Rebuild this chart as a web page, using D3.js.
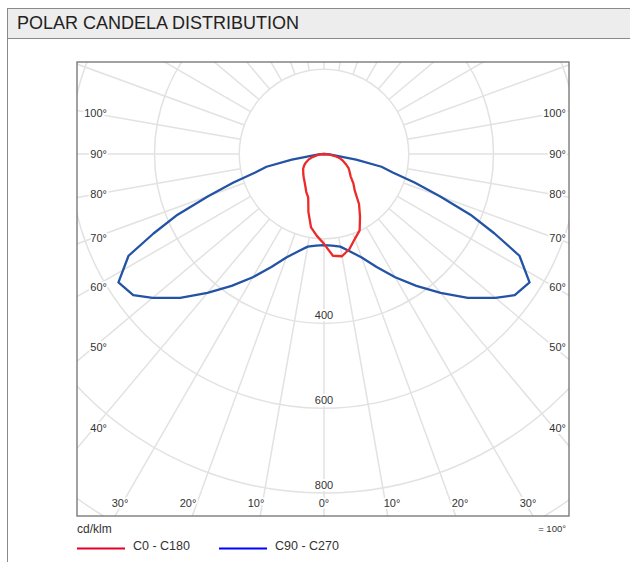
<!DOCTYPE html>
<html><head><meta charset="utf-8">
<script src="https://cdn.jsdelivr.net/npm/d3@7"></script>
<style>
html,body{margin:0;padding:0;background:#fff;}
svg{display:block;font-family:"Liberation Sans",Arial,Helvetica,sans-serif;}
</style></head>
<body>
<svg id="chart" width="630" height="562"></svg>
<script>
// ---- data (cd/klm) ----
const title = "POLAR CANDELA DISTRIBUTION";
const gammaBlue = [0,5,10,15,20,25,30,35,40,45,50,53.5,58,62.5,65,67.5,70,72.5,75,77.5,80,85,90];
const c90  = [215,217,222,238,260,294,336,380,428,480,528,560,572,520,444,374,291,224,168,139,77,13,0];
const c270 = [215,217,222,238,260,294,336,380,428,480,528,560,572,520,444,374,291,224,168,139,77,13,0];
const gammaRed = [0,5,10,15,20,25,30,35,40,45,50,55,60,65,70,75,80,85,90];
const c0   = [212,241,245,232,213,199,170,144,113,98,82,74,67,57,48,39,24,12,0];
const c180 = [212,194,176,142,109,99,88,80,74,69,64,60,54,47,39,28,16,9,0];
const ringValues = [200,400,600,800,1000,1200];
const ringLabels = ["400","600","800"];
const sideAngles = [100,90,80,70,60,50,40];
const bottomAngles = [30,20,10,0,10,20,30];
const bottomSides  = [-1,-1,-1,0,1,1,1];
const legendItems = [{name:"C0 - C180", color:"#e4002b"},{name:"C90 - C270", color:"#0000ff"}];
const unitLabel = "cd/klm";
const scaleLabel = "= 100°";

// ---- layout ----
const svg = d3.select("#chart");
const frame = {x0:77, y0:62, x1:569, y1:516};
const cx = 324, cy = 154;
const r = d3.scaleLinear().domain([0,200]).range([0,84.75]);
const rad = d => d*Math.PI/180;
const gridColor = "#e2e2e2";
const textColor = "#333";

// header
svg.append("rect").attr("x",7.5).attr("y",8.5).attr("width",640).attr("height",30)
  .attr("fill","#ededed").attr("stroke","#8a8a8a").attr("stroke-width",1);
svg.append("line").attr("x1",7.5).attr("x2",7.5).attr("y1",38).attr("y2",562)
  .attr("stroke","#8a8a8a").attr("stroke-width",1);
svg.append("text").attr("x",17).attr("y",29).attr("font-size",18).attr("fill","#222")
  .text(title);

// clip
svg.append("clipPath").attr("id","frameClip").append("rect")
  .attr("x",frame.x0).attr("y",frame.y0).attr("width",frame.x1-frame.x0).attr("height",frame.y1-frame.y0);
const g = svg.append("g").attr("clip-path","url(#frameClip)");
const gc = g.append("g").attr("transform",`translate(${cx},${cy})`);

// radial grid lines every 10 deg
const spokes = d3.range(0,360,10);
gc.selectAll("line.spoke").data(spokes).join("line")
  .attr("x1",d=>r(200)*Math.sin(rad(d))).attr("y1",d=>r(200)*Math.cos(rad(d)))
  .attr("x2",d=>r(1300)*Math.sin(rad(d))).attr("y2",d=>r(1300)*Math.cos(rad(d)))
  .attr("stroke",gridColor).attr("stroke-width",1.5);
gc.selectAll("circle.ring").data(ringValues).join("circle")
  .attr("r",d=>r(d)).attr("fill","none").attr("stroke",gridColor).attr("stroke-width",1.5);

// curves
const lineR = d3.lineRadial().angle(d=>d.a).radius(d=>r(d.v));
function curvePts(gam, left, right){
  const pts = [];
  for(let i=gam.length-1;i>=0;i--) pts.push({a:Math.PI+rad(gam[i]), v:left[i]});
  for(let i=1;i<gam.length;i++) pts.push({a:Math.PI-rad(gam[i]), v:right[i]});
  return pts;
}
gc.append("path").attr("d",lineR(curvePts(gammaBlue,c270,c90)))
  .attr("fill","none").attr("stroke","#2353a5").attr("stroke-width",2.3).attr("stroke-linejoin","round");
gc.append("path").attr("d",lineR(curvePts(gammaRed,c180,c0)))
  .attr("fill","none").attr("stroke","#ec2a2a").attr("stroke-width",2.3).attr("stroke-linejoin","round");

// labels
const lab = svg.append("g").attr("font-size",11).attr("fill",textColor);
function halo(sel){ return sel.attr("stroke","#fff").attr("stroke-width",4).attr("paint-order","stroke").attr("stroke-linejoin","round"); }
const sideDx = 230;
sideAngles.forEach(a=>{
  const y = cy + sideDx/Math.tan(rad(a));
  halo(lab.append("text").attr("x",107).attr("y",y).attr("dy","0.35em").attr("text-anchor","end").text(a+"°"));
  halo(lab.append("text").attr("x",566).attr("y",y).attr("dy","0.35em").attr("text-anchor","end").text(a+"°"));
});
const bx = d3.scaleLinear().domain([0,30]).range([0,204]);
bottomAngles.forEach((a,i)=>{
  halo(lab.append("text").attr("x",cx + bottomSides[i]*bx(a)).attr("y",503).attr("dy","0.35em")
    .attr("text-anchor","middle").text(a+"°"));
});
ringLabels.forEach(t=>{
  halo(lab.append("text").attr("x",cx).attr("y",cy + r(+t) - 8).attr("dy","0.35em")
    .attr("text-anchor","middle").text(t));
});

// frame
svg.append("rect").attr("x",frame.x0).attr("y",frame.y0).attr("width",frame.x1-frame.x0).attr("height",frame.y1-frame.y0)
  .attr("fill","none").attr("stroke","#707070").attr("stroke-width",1.3);

// units + legend
svg.append("text").attr("x",77).attr("y",529).attr("dy","0.35em").attr("font-size",12).attr("fill",textColor).text(unitLabel);
svg.append("text").attr("x",566).attr("y",529).attr("dy","0.35em").attr("font-size",9.5).attr("fill",textColor)
  .attr("text-anchor","end").text(scaleLabel);
const leg = svg.append("g");
const legX = d3.scalePoint().domain(legendItems.map(d=>d.name)).range([77,219]);
legendItems.forEach(d=>{
  const x = legX(d.name);
  leg.append("line").attr("x1",x).attr("x2",x+48).attr("y1",548.5).attr("y2",548.5)
    .attr("stroke",d.color).attr("stroke-width",2.2);
  leg.append("text").attr("x",x+56).attr("y",546).attr("dy","0.35em").attr("font-size",12.5)
    .attr("fill",textColor).text(d.name);
});
</script>
</body></html>
